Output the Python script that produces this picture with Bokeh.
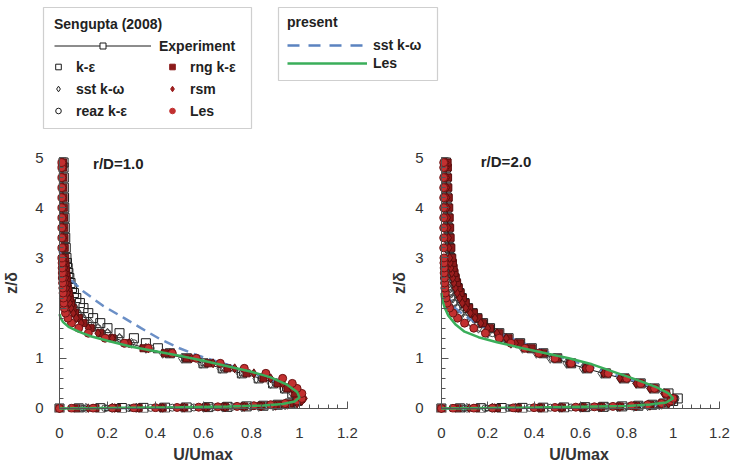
import numpy as np
from bokeh.plotting import figure
from bokeh.models import (Range1d, Legend, LegendItem, BoxAnnotation, Label, LinearAxis,
                          SingleIntervalTicker)
from bokeh.layouts import column, row
from bokeh.embed import file_html
from bokeh.resources import INLINE

FONT = "Liberation Sans"
BLACK = "#1a1a1a"
DARKRED = "#8b1a1a"
RSMRED = "#9c1e1e"
LESRED = "#c23030"
BLUE = "#5b83c0"
GREEN = "#3aae5a"
AXIS = "#555555"

# ---------------- data ----------------
panel_titles = ["r/D=1.0", "r/D=2.0"]
x_tick_interval = 0.2
y_tick_interval = 1

# shared wall-normal positions z/delta of the point series
z_pts = [0.0, 0.003, 0.006, 0.009, 0.012, 0.016, 0.02, 0.026, 0.033, 0.042, 0.055, 0.075, 0.1, 0.15,
         0.2, 0.3, 0.4, 0.5, 0.6, 0.7, 0.8, 0.9, 1.0, 1.1, 1.2, 1.3, 1.4, 1.5, 1.6, 1.7, 1.8, 1.9, 2.0,
         2.1, 2.2, 2.3, 2.4, 2.5, 2.6, 2.7, 2.8, 2.9, 3.0,
         3.2, 3.4, 3.6, 3.8, 4.0, 4.2, 4.4, 4.6, 4.8, 4.9]

# ---- r/D = 1.0 : U/Umax of each series at z_pts ----
exp_1 = [0.0, 0.1, 0.2, 0.3, 0.4, 0.5, 0.58, 0.66, 0.74, 0.81, 0.87, 0.93, 0.97, 1.0,
         1.0, 0.98, 0.94, 0.9, 0.84, 0.76, 0.68, 0.6, 0.52, 0.44, 0.36, 0.29, 0.23, 0.18, 0.14, 0.11, 0.085, 0.068, 0.055,
         0.046, 0.04, 0.035, 0.031, 0.028, 0.025, 0.023, 0.021, 0.02, 0.019,
         0.017, 0.016, 0.015, 0.014, 0.013, 0.013, 0.012, 0.012, 0.011, 0.011]
ke_1 = [0.0, 0.08, 0.17, 0.26, 0.35, 0.44, 0.53, 0.62, 0.7, 0.78, 0.85, 0.91, 0.96, 0.99,
        1.0, 0.97, 0.94, 0.89, 0.83, 0.76, 0.68, 0.6, 0.53, 0.46, 0.41, 0.36, 0.31, 0.25, 0.2, 0.17, 0.14, 0.12, 0.1,
        0.085, 0.07, 0.06, 0.052, 0.046, 0.041, 0.037, 0.034, 0.031, 0.029,
        0.026, 0.024, 0.022, 0.021, 0.02, 0.019, 0.018, 0.018, 0.017, 0.017]
sst_1 = [0.0, 0.11, 0.22, 0.32, 0.42, 0.51, 0.6, 0.68, 0.76, 0.83, 0.89, 0.94, 0.98, 1.0,
         1.0, 0.97, 0.93, 0.88, 0.82, 0.75, 0.67, 0.59, 0.51, 0.43, 0.36, 0.3, 0.25, 0.2, 0.16, 0.13, 0.1, 0.08, 0.066,
         0.055, 0.047, 0.041, 0.036, 0.032, 0.029, 0.026, 0.024, 0.022, 0.021,
         0.019, 0.018, 0.017, 0.016, 0.015, 0.015, 0.014, 0.014, 0.013, 0.013]
reaz_1 = [0.0, 0.09, 0.19, 0.29, 0.38, 0.47, 0.56, 0.64, 0.72, 0.8, 0.86, 0.92, 0.97, 1.0,
          1.01, 0.99, 0.95, 0.9, 0.84, 0.77, 0.69, 0.61, 0.53, 0.45, 0.38, 0.31, 0.25, 0.2, 0.16, 0.12, 0.095, 0.075, 0.06,
          0.05, 0.043, 0.037, 0.033, 0.029, 0.026, 0.024, 0.022, 0.02, 0.019,
          0.017, 0.016, 0.015, 0.014, 0.014, 0.013, 0.013, 0.012, 0.012, 0.012]
rng_1 = [0.0, 0.07, 0.15, 0.24, 0.33, 0.43, 0.52, 0.61, 0.69, 0.77, 0.84, 0.91, 0.96, 0.99,
         1.0, 0.98, 0.95, 0.91, 0.85, 0.78, 0.7, 0.62, 0.53, 0.44, 0.35, 0.28, 0.22, 0.17, 0.13, 0.1, 0.08, 0.065, 0.055,
         0.048, 0.043, 0.039, 0.035, 0.032, 0.03, 0.028, 0.026, 0.025, 0.024,
         0.022, 0.021, 0.02, 0.019, 0.018, 0.017, 0.016, 0.016, 0.015, 0.015]
rsm_1 = [0.0, 0.12, 0.23, 0.33, 0.43, 0.52, 0.61, 0.69, 0.77, 0.84, 0.9, 0.95, 0.99, 1.01,
         1.02, 1.0, 0.97, 0.93, 0.88, 0.81, 0.73, 0.64, 0.55, 0.46, 0.37, 0.29, 0.22, 0.16, 0.12, 0.09, 0.07, 0.057, 0.048,
         0.042, 0.037, 0.033, 0.03, 0.028, 0.026, 0.024, 0.022, 0.021, 0.02,
         0.019, 0.018, 0.017, 0.016, 0.016, 0.015, 0.015, 0.014, 0.014, 0.014]
les_1 = [0.0, 0.05, 0.14, 0.22, 0.31, 0.4, 0.49, 0.58, 0.66, 0.74, 0.81, 0.88, 0.94, 0.99,
         1.01, 1.01, 0.99, 0.97, 0.93, 0.86, 0.77, 0.67, 0.57, 0.47, 0.37, 0.27, 0.19, 0.12, 0.08, 0.05, 0.035, 0.025, 0.02,
         0.018, 0.016, 0.015, 0.014, 0.013, 0.012, 0.012, 0.011, 0.011, 0.01,
         0.01, 0.01, 0.01, 0.01, 0.01, 0.01, 0.01, 0.01, 0.01, 0.01]
present_sst_u_1 = [0.0, 0.01, 0.025, 0.05, 0.1, 0.18, 0.27, 0.34, 0.42, 0.5, 0.58, 0.7, 0.8, 0.88,
                   0.95, 0.99, 1.0, 0.97, 0.9, 0.7, 0.5, 0.3, 0.1, 0.0]
present_sst_z_1 = [3.15, 2.95, 2.75, 2.55, 2.33, 2.05, 1.8, 1.6, 1.38, 1.2, 1.05, 0.87, 0.72, 0.58,
                   0.42, 0.28, 0.18, 0.1, 0.06, 0.035, 0.02, 0.01, 0.005, 0.0]
present_les_u_1 = [0.0, 0.005, 0.015, 0.04, 0.08, 0.13, 0.2, 0.3, 0.4, 0.5, 0.6, 0.7, 0.8, 0.88,
                   0.95, 0.99, 1.0, 0.98, 0.93, 0.85, 0.7, 0.5, 0.3, 0.1, 0.0]
present_les_z_1 = [1.88, 1.8, 1.72, 1.62, 1.53, 1.44, 1.35, 1.23, 1.14, 1.05, 0.95, 0.84, 0.73, 0.62,
                   0.47, 0.33, 0.22, 0.14, 0.09, 0.06, 0.04, 0.025, 0.015, 0.005, 0.0]

# ---- r/D = 2.0 ----
exp_2 = [0.0, 0.1, 0.2, 0.3, 0.4, 0.49, 0.58, 0.66, 0.74, 0.81, 0.87, 0.93, 0.97, 1.0,
         1.01, 0.97, 0.91, 0.85, 0.78, 0.7, 0.62, 0.55, 0.49, 0.43, 0.38, 0.33, 0.28, 0.24, 0.2, 0.17, 0.15, 0.13, 0.11,
         0.095, 0.083, 0.073, 0.065, 0.058, 0.052, 0.047, 0.043, 0.04, 0.037,
         0.033, 0.03, 0.028, 0.026, 0.024, 0.022, 0.021, 0.02, 0.019, 0.018]
ke_2 = [0.0, 0.08, 0.17, 0.26, 0.35, 0.44, 0.53, 0.62, 0.7, 0.78, 0.85, 0.91, 0.96, 1.0,
        1.02, 0.98, 0.92, 0.86, 0.79, 0.71, 0.63, 0.56, 0.5, 0.44, 0.39, 0.34, 0.29, 0.25, 0.21, 0.18, 0.155, 0.135, 0.115,
        0.1, 0.088, 0.078, 0.07, 0.062, 0.056, 0.05, 0.046, 0.042, 0.039,
        0.035, 0.032, 0.029, 0.027, 0.025, 0.024, 0.022, 0.021, 0.02, 0.02]
sst_2 = [0.0, 0.11, 0.22, 0.32, 0.42, 0.51, 0.6, 0.68, 0.76, 0.83, 0.89, 0.94, 0.98, 1.0,
         1.0, 0.96, 0.9, 0.84, 0.77, 0.69, 0.61, 0.54, 0.47, 0.41, 0.35, 0.3, 0.25, 0.2, 0.16, 0.13, 0.105, 0.085, 0.07,
         0.058, 0.05, 0.044, 0.039, 0.035, 0.032, 0.03, 0.028, 0.026, 0.025,
         0.023, 0.022, 0.021, 0.02, 0.019, 0.018, 0.018, 0.017, 0.017, 0.017]
reaz_2 = [0.0, 0.09, 0.19, 0.29, 0.38, 0.47, 0.56, 0.64, 0.72, 0.8, 0.86, 0.92, 0.97, 1.0,
          1.01, 0.97, 0.92, 0.86, 0.79, 0.71, 0.63, 0.55, 0.48, 0.42, 0.36, 0.31, 0.26, 0.22, 0.17, 0.13, 0.1, 0.08, 0.065,
          0.052, 0.043, 0.037, 0.033, 0.03, 0.027, 0.025, 0.023, 0.022, 0.021,
          0.019, 0.018, 0.017, 0.016, 0.016, 0.015, 0.015, 0.014, 0.014, 0.014]
rng_2 = [0.0, 0.07, 0.15, 0.24, 0.33, 0.43, 0.52, 0.61, 0.69, 0.77, 0.84, 0.9, 0.95, 0.99,
         1.0, 0.97, 0.92, 0.86, 0.79, 0.71, 0.63, 0.56, 0.5, 0.44, 0.39, 0.34, 0.29, 0.25, 0.21, 0.18, 0.16, 0.14, 0.12,
         0.105, 0.093, 0.083, 0.075, 0.068, 0.062, 0.057, 0.053, 0.05, 0.047,
         0.043, 0.04, 0.038, 0.036, 0.034, 0.032, 0.03, 0.029, 0.028, 0.027]
rsm_2 = [0.0, 0.12, 0.23, 0.33, 0.43, 0.52, 0.61, 0.69, 0.77, 0.84, 0.9, 0.95, 0.98, 1.0,
         1.0, 0.96, 0.9, 0.84, 0.77, 0.7, 0.62, 0.55, 0.49, 0.43, 0.37, 0.32, 0.28, 0.24, 0.2, 0.17, 0.145, 0.125, 0.105,
         0.09, 0.078, 0.068, 0.06, 0.054, 0.049, 0.045, 0.041, 0.038, 0.036,
         0.033, 0.031, 0.029, 0.027, 0.025, 0.024, 0.023, 0.022, 0.021, 0.02]
les_2 = [0.0, 0.05, 0.14, 0.22, 0.31, 0.4, 0.49, 0.58, 0.66, 0.74, 0.82, 0.89, 0.95, 0.99,
         1.0, 0.97, 0.92, 0.86, 0.8, 0.72, 0.64, 0.56, 0.49, 0.42, 0.36, 0.3, 0.25, 0.19, 0.14, 0.1, 0.07, 0.05, 0.035,
         0.025, 0.02, 0.017, 0.015, 0.014, 0.013, 0.012, 0.012, 0.011, 0.011,
         0.01, 0.01, 0.01, 0.01, 0.01, 0.01, 0.01, 0.01, 0.01, 0.01]
present_sst_u_2 = [0.0, 0.01, 0.03, 0.06, 0.1, 0.15, 0.22, 0.3, 0.4, 0.5, 0.6, 0.7, 0.8, 0.9,
                   0.97, 1.0, 0.98, 0.9, 0.7, 0.5, 0.3, 0.1, 0.0]
present_sst_z_2 = [2.6, 2.4, 2.2, 2.0, 1.85, 1.7, 1.55, 1.4, 1.22, 1.05, 0.9, 0.74, 0.6, 0.45,
                   0.3, 0.18, 0.1, 0.06, 0.035, 0.02, 0.01, 0.005, 0.0]
present_les_u_2 = [0.0, 0.005, 0.015, 0.03, 0.06, 0.1, 0.16, 0.24, 0.35, 0.45, 0.55, 0.65, 0.75, 0.85,
                   0.93, 0.98, 1.0, 0.97, 0.9, 0.8, 0.6, 0.4, 0.2, 0.0]
present_les_z_2 = [2.3, 2.15, 2.0, 1.85, 1.68, 1.53, 1.42, 1.32, 1.2, 1.1, 1.0, 0.88, 0.72, 0.56,
                   0.42, 0.3, 0.2, 0.12, 0.08, 0.05, 0.035, 0.02, 0.01, 0.0]

panels = [
    dict(exp=exp_1, ke=ke_1, sst=sst_1, reaz=reaz_1, rng=rng_1, rsm=rsm_1, les=les_1,
         bu=present_sst_u_1, bz=present_sst_z_1, gu=present_les_u_1, gz=present_les_z_1),
    dict(exp=exp_2, ke=ke_2, sst=sst_2, reaz=reaz_2, rng=rng_2, rsm=rsm_2, les=les_2,
         bu=present_sst_u_2, bz=present_sst_z_2, gu=present_les_u_2, gz=present_les_z_2),
]


def style_labels(ax):
    ax.axis_line_color = None
    ax.major_tick_line_color = None
    ax.minor_tick_line_color = None
    ax.major_label_text_font = FONT
    ax.major_label_text_font_size = "15px"
    ax.major_label_text_color = "#333333"
    ax.axis_label_text_font = FONT
    ax.axis_label_text_font_size = "16px"
    ax.axis_label_text_font_style = "bold"
    ax.axis_label_text_color = "#333333"


def zero_axis(ticker, bounds):
    # axis line + ticks drawn through the origin, ticks pointing into the data area
    return LinearAxis(ticker=ticker, bounds=bounds, fixed_location=0,
                      axis_line_color=AXIS, major_tick_line_color=AXIS, minor_tick_line_color=AXIS,
                      major_tick_in=0, major_tick_out=7, minor_tick_in=0, minor_tick_out=4,
                      major_label_text_font_size="0px", major_label_text_alpha=0,
                      major_label_standoff=0)


def make_panel(d, title, width, bl, br, xr, lx, ly, ylab_standoff):
    p = figure(width=width, height=325, x_range=Range1d(*xr), y_range=Range1d(-0.08, 5.08),
               min_border_left=bl, min_border_right=br, min_border_top=13, min_border_bottom=52,
               toolbar_location=None, output_backend="svg", outline_line_color=None,
               background_fill_color="white", border_fill_color="white")
    p.grid.visible = False
    xt = SingleIntervalTicker(interval=x_tick_interval, num_minor_ticks=5)
    yt = SingleIntervalTicker(interval=y_tick_interval, num_minor_ticks=5)
    p.xaxis.ticker = xt
    p.yaxis.ticker = yt
    style_labels(p.xaxis[0])
    style_labels(p.yaxis[0])
    p.xaxis.major_label_overrides = {0.0: "0", 1.0: "1"}
    p.xaxis.axis_label = "U/Umax"
    p.yaxis.axis_label = "z/δ"
    p.xaxis.major_label_standoff = 9
    p.yaxis.major_label_standoff = 4
    p.xaxis.axis_label_standoff = 5
    p.yaxis.axis_label_standoff = ylab_standoff
    p.add_layout(zero_axis(xt, (0, 1.2001)), "above")
    p.add_layout(zero_axis(yt, (0, 5)), "right")

    p.line(d["exp"], z_pts, line_color=BLACK, line_width=1)
    p.scatter(d["exp"], z_pts, marker="square", size=5, fill_color="white", line_color=BLACK)
    p.scatter(d["ke"], z_pts, marker="square", size=9, fill_color=None, line_color=BLACK, line_width=1)
    p.scatter(d["sst"], z_pts, marker="diamond", size=10, fill_color=None, line_color="#444444")
    p.scatter(d["reaz"], z_pts, marker="circle", size=7, fill_color=None, line_color="#444444")
    p.line(d["bu"], d["bz"], line_color=BLUE, line_width=2.5, line_dash="10 6", line_alpha=0.9)
    p.scatter(d["rng"], z_pts, marker="square", size=7, fill_color=DARKRED, line_color="#5c0d0d")
    p.scatter(d["rsm"], z_pts, marker="diamond", size=9, fill_color=RSMRED, line_color="#5c0d0d")
    p.scatter(d["les"], z_pts, marker="circle", size=8, fill_color=LESRED, line_color="#6e1414")
    p.line(d["gu"], d["gz"], line_color=GREEN, line_width=2.5)

    p.add_layout(Label(x=lx, y=ly, text=title, text_font=FONT, text_font_size="15px",
                       text_font_style="bold", text_baseline="middle", text_color="#222222"))
    return p


left = make_panel(panels[0], panel_titles[0], 388, 53, 36, (-0.025, 1.221), 0.14, 4.88, 12)
right = make_panel(panels[1], panel_titles[1], 346, 45, 10, (-0.034, 1.2216), 0.17, 4.92, 4)

# ---------------- legend strip ----------------
top = figure(width=734, height=140, x_range=Range1d(0, 734), y_range=Range1d(0, 140),
             min_border=0, toolbar_location=None, output_backend="svg",
             x_axis_type=None, y_axis_type=None, outline_line_color=None)
top.grid.visible = False

nan = np.array([np.nan])  # legend-only renderers (nothing drawn in the strip)
r_exp_l = top.line(x=nan, y=nan, line_color=BLACK, line_width=1)
r_exp_m = top.scatter(x=nan, y=nan, marker="square", fill_color="white", line_color=BLACK)
r_ke = top.scatter(x=nan, y=nan, marker="square", fill_color="white", line_color=BLACK)
r_sst = top.scatter(x=nan, y=nan, marker="diamond", fill_color="white", line_color=BLACK)
r_reaz = top.scatter(x=nan, y=nan, marker="circle", fill_color="white", line_color=BLACK)
r_rng = top.scatter(x=nan, y=nan, marker="square", fill_color=DARKRED, line_color=DARKRED)
r_rsm = top.scatter(x=nan, y=nan, marker="diamond", fill_color=RSMRED, line_color=RSMRED)
r_les = top.scatter(x=nan, y=nan, marker="circle", fill_color=LESRED, line_color=LESRED)
r_pb = top.line(x=nan, y=nan, line_color=BLUE, line_width=2.5, line_dash="12 9")
r_pg = top.line(x=nan, y=nan, line_color=GREEN, line_width=2.5)

common = dict(border_line_color=None, background_fill_alpha=0, padding=0, margin=0,
              label_text_font=FONT, label_text_font_size="14px", label_text_font_style="bold",
              label_text_color="#222222", title_text_font=FONT, title_text_font_size="14px",
              title_text_font_style="bold", title_text_color="#222222")

legA = Legend(items=[LegendItem(label="Experiment", renderers=[r_exp_l, r_exp_m])],
              title="Sengupta (2008)", location=(54, 85), glyph_width=97, glyph_height=15,
              label_height=19, label_standoff=8, title_standoff=4, **common)
legB = Legend(items=[LegendItem(label="k-ε", renderers=[r_ke]),
                     LegendItem(label="sst k-ω", renderers=[r_sst]),
                     LegendItem(label="reaz k-ε", renderers=[r_reaz])],
              location=(51, 20), glyph_width=14, glyph_height=19, label_height=19,
              spacing=3, label_standoff=11, **common)
legC = Legend(items=[LegendItem(label="rng k-ε", renderers=[r_rng]),
                     LegendItem(label="rsm", renderers=[r_rsm]),
                     LegendItem(label="Les", renderers=[r_les])],
              location=(165, 20), glyph_width=14, glyph_height=19, label_height=19,
              spacing=3, label_standoff=11, **common)
legD = Legend(items=[LegendItem(label="sst k-ω", renderers=[r_pb]),
                     LegendItem(label="Les", renderers=[r_pg])],
              title="present", location=(287, 69), glyph_width=80, glyph_height=16,
              label_height=16, spacing=2, label_standoff=6, title_standoff=7, **common)
for lg in (legA, legB, legC, legD):
    top.add_layout(lg)

top.add_layout(BoxAnnotation(left=43, right=251, bottom=12, top=133, fill_color=None,
                             line_color="#606060", line_width=1.2))
top.add_layout(BoxAnnotation(left=278, right=437, bottom=60, top=133, fill_color=None,
                             line_color="#606060", line_width=1.2))

layout = column(top, row(left, right))
open("out.html", "w").write(file_html(layout, INLINE))
